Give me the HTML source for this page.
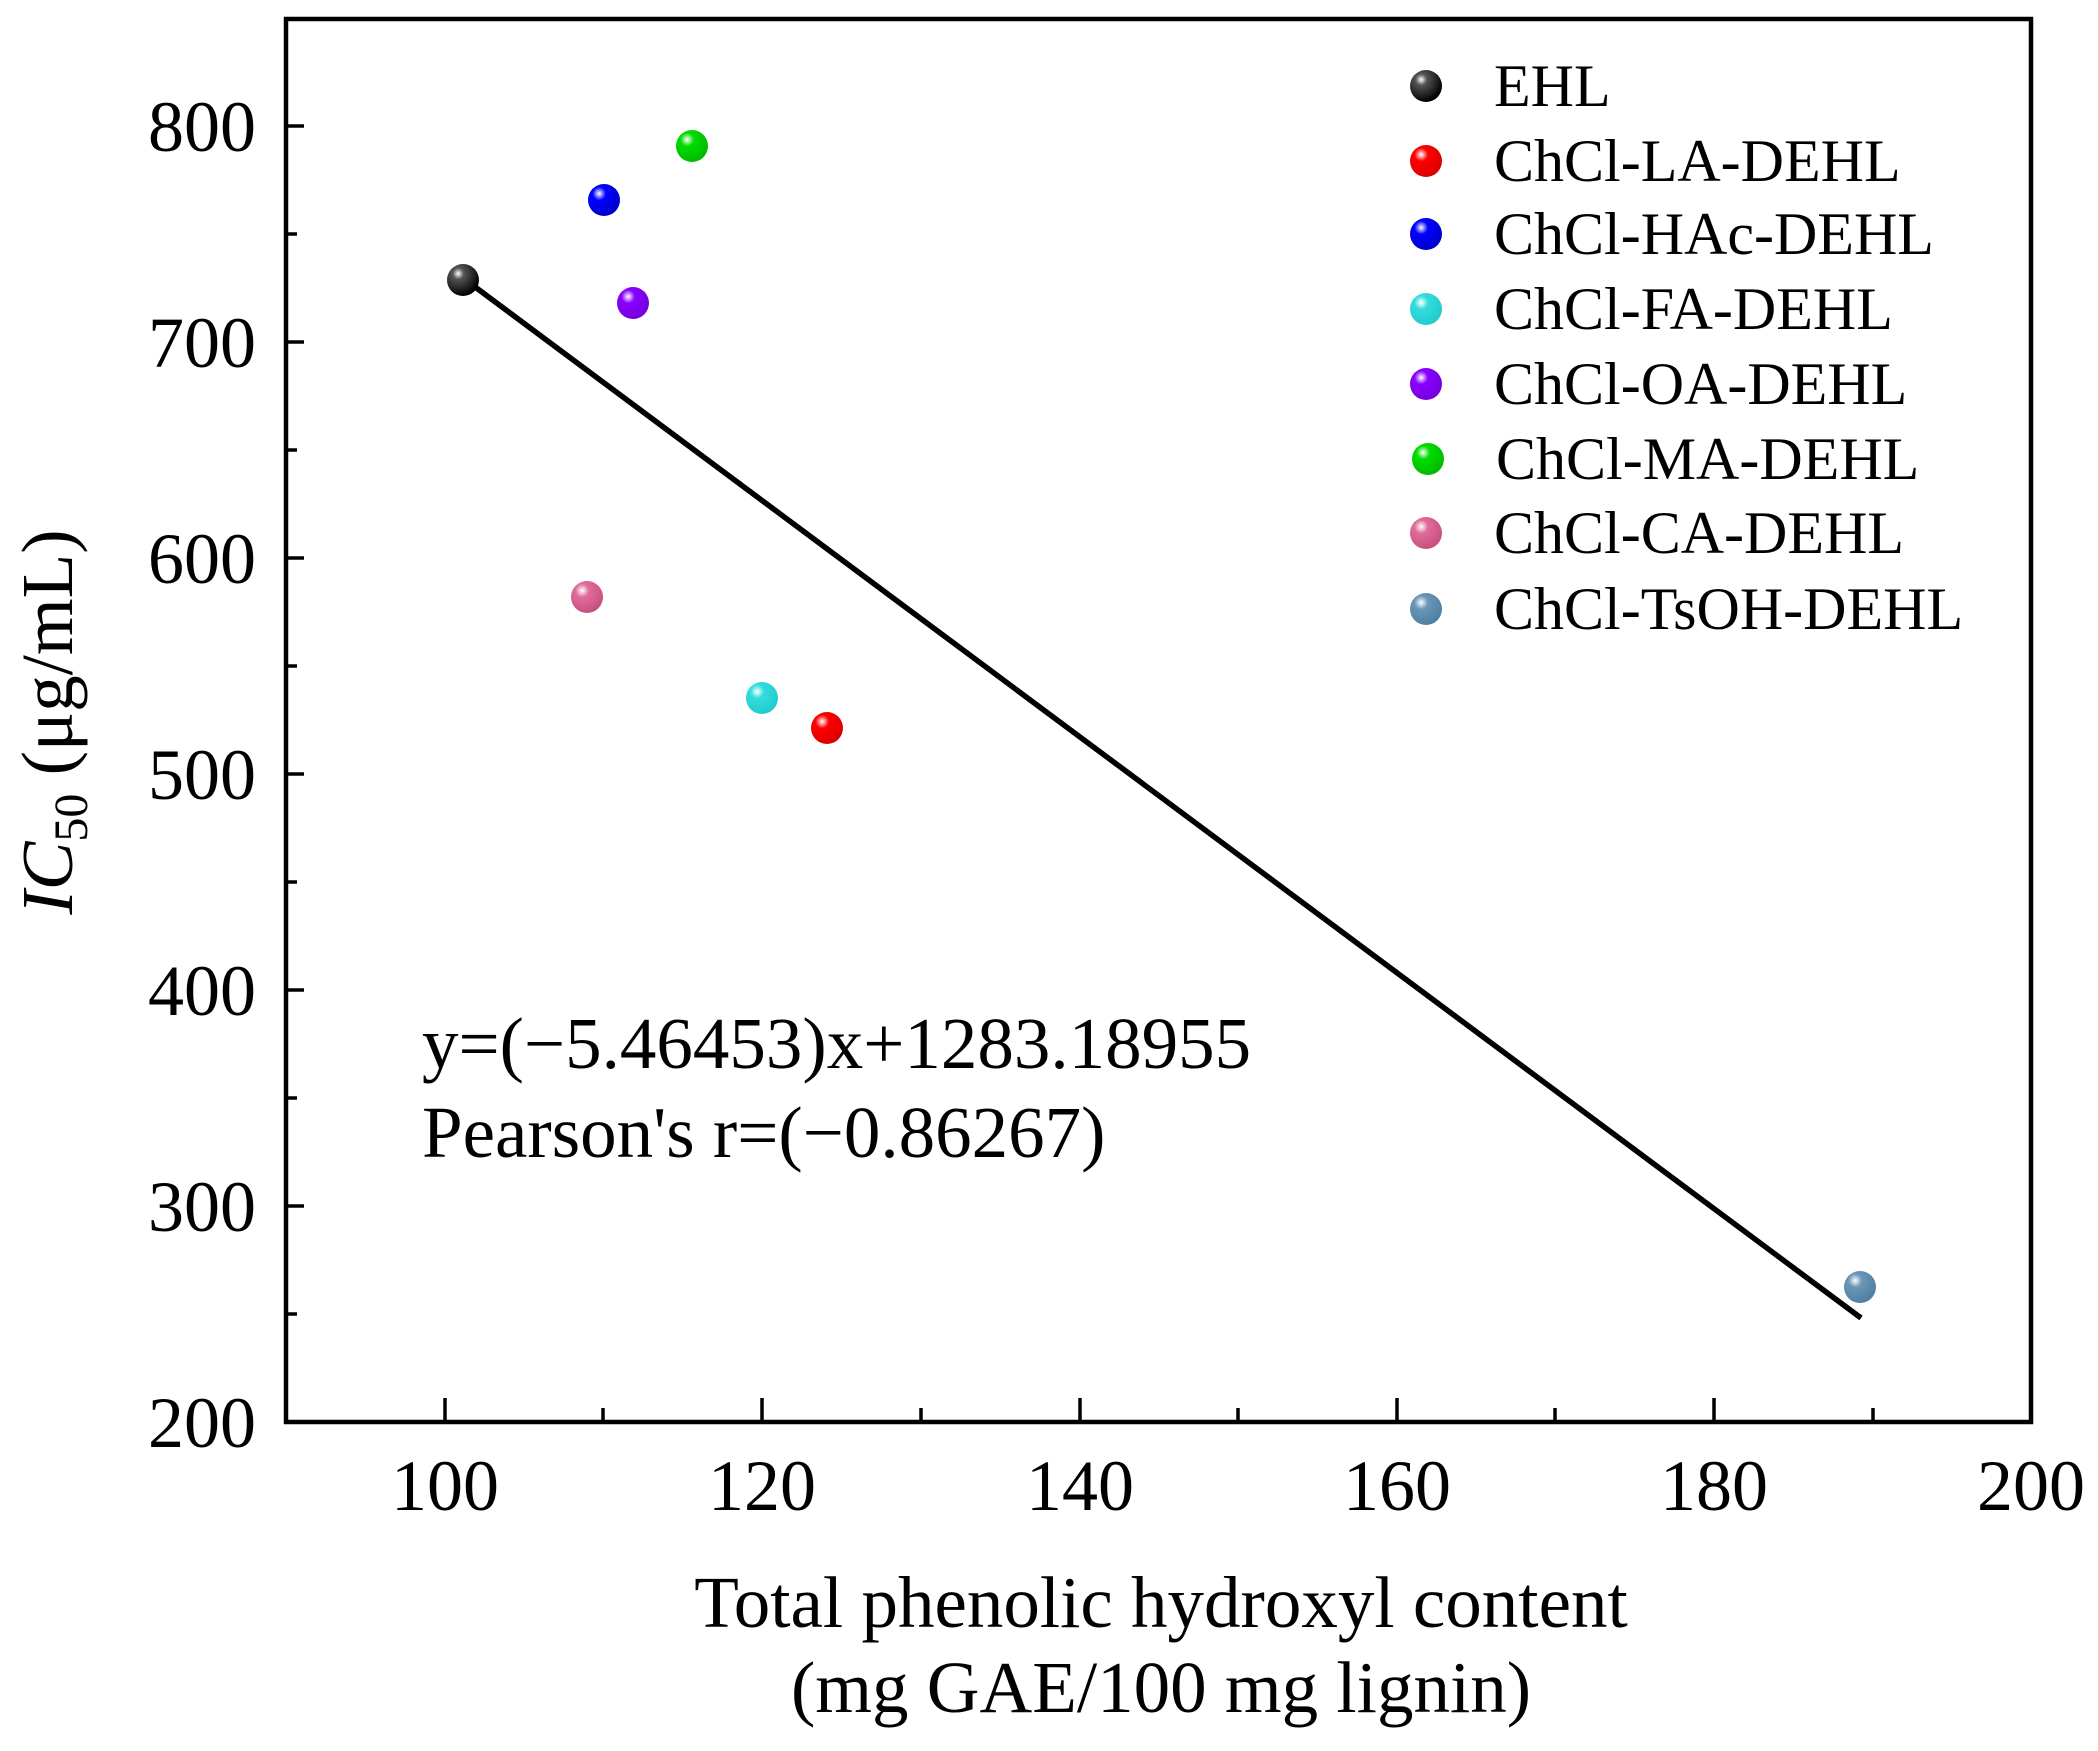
<!DOCTYPE html>
<html><head><meta charset="utf-8"><style>html,body{margin:0;padding:0;background:#fff}</style></head>
<body>
<svg width="2098" height="1746" viewBox="0 0 2098 1746" xmlns="http://www.w3.org/2000/svg" font-family="'Liberation Serif', serif">
<defs>
<radialGradient id="gk" cx="0.35" cy="0.3" r="0.7"><stop offset="0" stop-color="#fff"/><stop offset="0.25" stop-color="#555"/><stop offset="1" stop-color="#000"/></radialGradient>
<radialGradient id="gr" cx="0.35" cy="0.3" r="0.7"><stop offset="0" stop-color="#fff"/><stop offset="0.3" stop-color="#f00"/><stop offset="1" stop-color="#d00"/></radialGradient>
<radialGradient id="gb" cx="0.35" cy="0.3" r="0.7"><stop offset="0" stop-color="#fff"/><stop offset="0.3" stop-color="#00f"/><stop offset="1" stop-color="#00c"/></radialGradient>
<radialGradient id="gc" cx="0.35" cy="0.3" r="0.7"><stop offset="0" stop-color="#fff"/><stop offset="0.3" stop-color="#3dd"/><stop offset="1" stop-color="#2cc"/></radialGradient>
<radialGradient id="gp" cx="0.35" cy="0.3" r="0.7"><stop offset="0" stop-color="#fff"/><stop offset="0.3" stop-color="#80f"/><stop offset="1" stop-color="#70d"/></radialGradient>
<radialGradient id="gg" cx="0.35" cy="0.3" r="0.7"><stop offset="0" stop-color="#fff"/><stop offset="0.3" stop-color="#0d0"/><stop offset="1" stop-color="#0b0"/></radialGradient>
<radialGradient id="gm" cx="0.35" cy="0.3" r="0.7"><stop offset="0" stop-color="#fff"/><stop offset="0.3" stop-color="#e06c9a"/><stop offset="1" stop-color="#c85080"/></radialGradient>
<radialGradient id="gs" cx="0.35" cy="0.3" r="0.7"><stop offset="0" stop-color="#fff"/><stop offset="0.3" stop-color="#6a96b8"/><stop offset="1" stop-color="#5080a0"/></radialGradient>
</defs>
<rect x="286" y="19" width="1745" height="1403" fill="none" stroke="#000" stroke-width="4.5"/>
<g stroke="#000" stroke-width="3.5">
<line x1="286" y1="126" x2="304" y2="126"/><line x1="286" y1="342" x2="304" y2="342"/><line x1="286" y1="558" x2="304" y2="558"/><line x1="286" y1="774" x2="304" y2="774"/><line x1="286" y1="990" x2="304" y2="990"/><line x1="286" y1="1206" x2="304" y2="1206"/>
<line x1="286" y1="234" x2="297" y2="234"/><line x1="286" y1="450" x2="297" y2="450"/><line x1="286" y1="666" x2="297" y2="666"/><line x1="286" y1="882" x2="297" y2="882"/><line x1="286" y1="1098" x2="297" y2="1098"/><line x1="286" y1="1314" x2="297" y2="1314"/>
<line x1="445" y1="1422" x2="445" y2="1398"/><line x1="762" y1="1422" x2="762" y2="1398"/><line x1="1080" y1="1422" x2="1080" y2="1398"/><line x1="1397" y1="1422" x2="1397" y2="1398"/><line x1="1714" y1="1422" x2="1714" y2="1398"/>
<line x1="603" y1="1422" x2="603" y2="1408"/><line x1="921" y1="1422" x2="921" y2="1408"/><line x1="1238" y1="1422" x2="1238" y2="1408"/><line x1="1555" y1="1422" x2="1555" y2="1408"/><line x1="1873" y1="1422" x2="1873" y2="1408"/>
</g>
<g font-size="72" text-anchor="end">
<text x="256" y="151">800</text><text x="256" y="367">700</text><text x="256" y="583">600</text><text x="256" y="799">500</text><text x="256" y="1015">400</text><text x="256" y="1231">300</text><text x="256" y="1447">200</text>
</g>
<g font-size="72" text-anchor="middle">
<text x="445" y="1510">100</text><text x="762" y="1510">120</text><text x="1080" y="1510">140</text><text x="1397" y="1510">160</text><text x="1714" y="1510">180</text><text x="2031" y="1510">200</text>
</g>
<text x="1161" y="1627" font-size="73" text-anchor="middle">Total phenolic hydroxyl content</text>
<text x="1161" y="1712" font-size="73" text-anchor="middle">(mg GAE/100 mg lignin)</text>
<text transform="translate(72,722) rotate(-90)" font-size="73" text-anchor="middle"><tspan font-style="italic">IC</tspan><tspan font-size="48" dy="15">50</tspan><tspan dy="-15"> (μg/mL)</tspan></text>
<text x="422" y="1068" font-size="73">y=(−5.46453)x+1283.18955</text>
<text x="422" y="1157" font-size="73">Pearson's r=(−0.86267)</text>
<line x1="463" y1="278" x2="1861" y2="1318" stroke="#000" stroke-width="5.5"/>
<circle cx="463" cy="280" r="16" fill="url(#gk)"/>
<circle cx="827" cy="728" r="16" fill="url(#gr)"/>
<circle cx="604" cy="200" r="16" fill="url(#gb)"/>
<circle cx="762" cy="698" r="16" fill="url(#gc)"/>
<circle cx="633" cy="303" r="16" fill="url(#gp)"/>
<circle cx="692" cy="146" r="16" fill="url(#gg)"/>
<circle cx="587" cy="597" r="16" fill="url(#gm)"/>
<circle cx="1860" cy="1287" r="16" fill="url(#gs)"/>
<g>
<circle cx="1426" cy="86" r="16" fill="url(#gk)"/>
<circle cx="1426" cy="161" r="16" fill="url(#gr)"/>
<circle cx="1426" cy="234" r="16" fill="url(#gb)"/>
<circle cx="1426" cy="309" r="16" fill="url(#gc)"/>
<circle cx="1426" cy="384" r="16" fill="url(#gp)"/>
<circle cx="1428" cy="459" r="16" fill="url(#gg)"/>
<circle cx="1426" cy="533" r="16" fill="url(#gm)"/>
<circle cx="1426" cy="609" r="16" fill="url(#gs)"/>
</g>
<g font-size="60">
<text x="1494" y="106">EHL</text>
<text x="1494" y="181">ChCl-LA-DEHL</text>
<text x="1494" y="254">ChCl-HAc-DEHL</text>
<text x="1494" y="329">ChCl-FA-DEHL</text>
<text x="1494" y="404">ChCl-OA-DEHL</text>
<text x="1496" y="479">ChCl-MA-DEHL</text>
<text x="1494" y="553">ChCl-CA-DEHL</text>
<text x="1494" y="629">ChCl-TsOH-DEHL</text>
</g>
</svg>
</body></html>
